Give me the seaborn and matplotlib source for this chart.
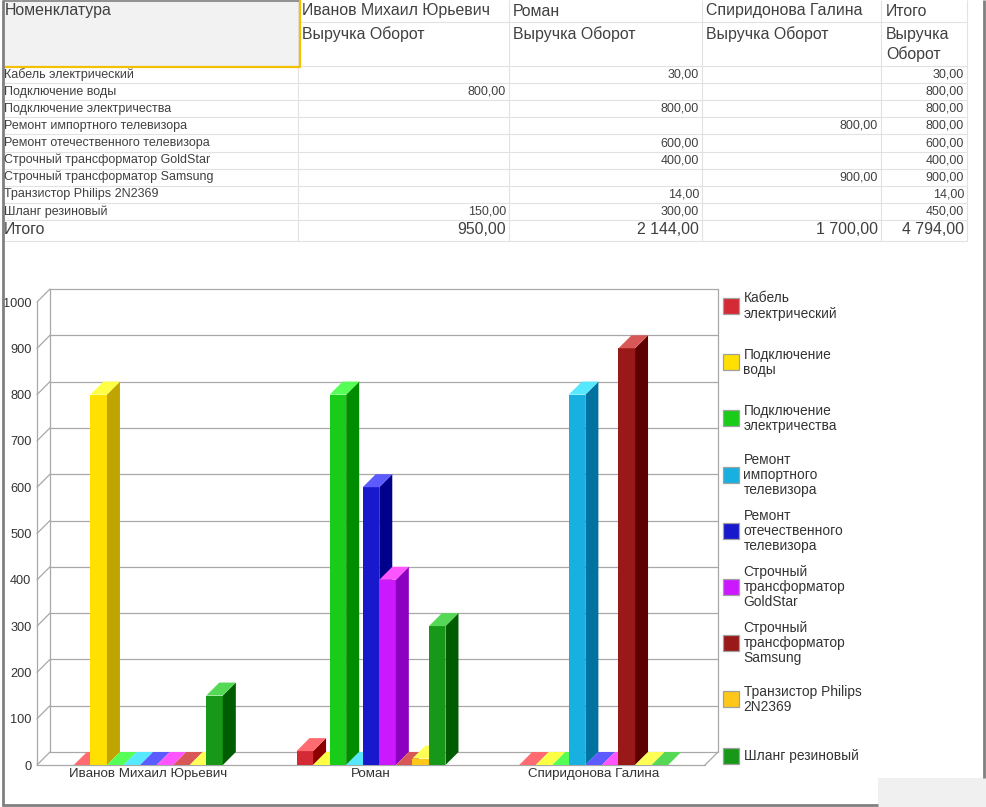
import numpy as np
import pandas as pd
import matplotlib
matplotlib.use("Agg")
import matplotlib.pyplot as plt
from matplotlib.patches import Polygon, Rectangle
import seaborn as sns

# ---------------- data ----------------
managers = ["Иванов Михаил Юрьевич", "Роман", "Спиридонова Галина"]
items = ["Кабель электрический", "Подключение воды", "Подключение электричества",
         "Ремонт импортного телевизора", "Ремонт отечественного телевизора",
         "Строчный трансформатор GoldStar", "Строчный трансформатор Samsung",
         "Транзистор Philips 2N2369", "Шланг резиновый"]
legend_labels = ["Кабель\nэлектрический", "Подключение\nводы", "Подключение\nэлектричества",
                 "Ремонт\nимпортного\nтелевизора", "Ремонт\nотечественного\nтелевизора",
                 "Строчный\nтрансформатор\nGoldStar", "Строчный\nтрансформатор\nSamsung",
                 "Транзистор Philips\n2N2369", "Шланг резиновый"]
vals_ivanov = [0, 800, 0, 0, 0, 0, 0, 0, 150]
vals_roman = [30, 0, 800, 0, 600, 400, 0, 14, 300]
vals_spiridonova = [0, 0, 0, 800, 0, 0, 900, 0, 0]
y_ticks = list(range(0, 1001, 100))
header_measure = "Выручка Оборот"
header_total = "Итого"
header_first = "Номенклатура"

front_colors = ["#D42A36", "#FFE000", "#1ACC1A", "#18B0E0", "#1818CC",
                "#CC18FF", "#991818", "#FFC818", "#189818"]
side_colors = ["#8C0000", "#C0A400", "#008C00", "#0072A0", "#00008A",
               "#8C00C0", "#5C0000", "#C09000", "#005C00"]
top_colors = ["#FF6B70", "#FFFF44", "#55FF55", "#55E8FF", "#5B5BFF",
              "#FF55FF", "#D85858", "#FFFF55", "#55D855"]

all_vals = [vals_ivanov, vals_roman, vals_spiridonova]
rows = []
for m, vs in zip(managers, all_vals):
    for it, v in zip(items, vs):
        rows.append({"manager": m, "item": it, "value": v})
df = pd.DataFrame(rows)

# ---------------- figure ----------------
sns.set_style("white")
plt.rcParams['font.family'] = ['Liberation Sans', 'DejaVu Sans']
W, H = 987, 807
fig = plt.figure(figsize=(W / 100, H / 100), dpi=100)
fig.patch.set_facecolor("white")

# pixel-space overlay axes for table, legend, frame
pax = fig.add_axes([0, 0, 1, 1], zorder=5)
pax.set_xlim(0, W)
pax.set_ylim(H, 0)
pax.axis("off")
pax.patch.set_alpha(0)

TXT = "#404040"
LINE = "#E2E2E2"

def fmt(v):
    s = f"{v:,.2f}"
    return s.replace(",", " ").replace(".", ",")

# table geometry (pixels)
col_x = [3, 298, 509, 702, 881, 967]
row_y = [66 + 17.1 * i for i in range(10)] + [241]

# header grey cell
pax.add_patch(Rectangle((3, -2), 296, 68, facecolor="#F2F2F2", edgecolor="none"))
# grid lines
for x in col_x[1:]:
    pax.plot([x, x], [0, 241], color=LINE, lw=0.8, solid_capstyle="butt")
pax.plot([298, 967], [22, 22], color=LINE, lw=0.8)
for y in row_y:
    pax.plot([3, 967], [y, y], color=LINE, lw=0.8)
# frame of header cell
pax.plot([3, 299], [0.6, 0.6], color="#808080", lw=1.2, solid_capstyle="butt")
pax.plot([3, 299.5, 299.5], [66.5, 66.5, -1], color="#F5C000", lw=1.6, solid_capstyle="butt")

hfs = 11.4
pax.text(5, 11, header_first, fontsize=hfs, color=TXT, va="center", ha="left")
for i, m in enumerate(managers):
    pax.text(col_x[i + 1] + 4, 11, m, fontsize=hfs, color=TXT, va="center", ha="left")
    pax.text(col_x[i + 1] + 4, 34, header_measure, fontsize=hfs, color=TXT, va="center", ha="left")
pax.text(col_x[4] + 5, 11, header_total, fontsize=hfs, color=TXT, va="center", ha="left")
pax.text(col_x[4] + 5, 34, header_measure.split()[0], fontsize=hfs, color=TXT, va="center", ha="left")
pax.text(col_x[4] + 5, 54, header_measure.split()[1], fontsize=hfs, color=TXT, va="center", ha="left")

dfs = 9.0
for r, it in enumerate(items):
    yc = row_y[r] + 8.6
    pax.text(4, yc, it, fontsize=dfs, color=TXT, va="center", ha="left")
    row_total = 0
    for c, vs in enumerate(all_vals):
        v = vs[r]
        row_total += v
        if v:
            pax.text(col_x[c + 2] - 3, yc, fmt(v), fontsize=dfs, color=TXT, va="center", ha="right")
    pax.text(col_x[5] - 3, yc, fmt(row_total), fontsize=dfs, color=TXT, va="center", ha="right")

yc = 230
pax.text(4, yc, header_total, fontsize=hfs, color=TXT, va="center", ha="left")
grand = 0
for c, vs in enumerate(all_vals):
    s = sum(vs)
    grand += s
    pax.text(col_x[c + 2] - 3, yc, fmt(s), fontsize=hfs, color=TXT, va="center", ha="right")
pax.text(col_x[5] - 3, yc, fmt(grand), fontsize=hfs, color=TXT, va="center", ha="right")

# legend
lfs = 9.9
for i, (lab, col) in enumerate(zip(legend_labels, front_colors)):
    cy = 306 + 56.2 * i
    pax.add_patch(Rectangle((722.5, cy - 8), 16, 16, facecolor=col, edgecolor="#A0A0A0", lw=0.9))
    pax.text(743.5, cy, lab, fontsize=lfs, color="#333333", va="center", ha="left", linespacing=1.1)

# outer frame
pax.add_patch(Rectangle((878, 778), 109, 29, facecolor="#F0F0F0", edgecolor="none"))
pax.plot([2.5, 2.5], [0, 806], color="#808080", lw=2.0, solid_capstyle="butt")
pax.plot([2, 878], [805, 805], color="#808080", lw=2.0, solid_capstyle="butt")
pax.plot([984, 984], [0, 778], color="#808080", lw=2.0, solid_capstyle="butt")

# ---------------- chart ----------------
x0, x1 = 37, 705
yb, yt = 765, 302
ax = fig.add_axes([x0 / W, 1 - yb / H, (x1 - x0) / W, (yb - yt) / H], zorder=2)
ax.patch.set_alpha(0)

group_w = 0.669
sns.barplot(data=df, x="manager", y="value", hue="item", order=managers, hue_order=items,
            palette=front_colors, saturation=1, width=group_w, dodge=True,
            edgecolor="none", linewidth=0, legend=False, errorbar=None, ax=ax)

ax.set_xlim(-0.5, 2.5)
ax.set_ylim(0, 1000)
px_per_x = (x1 - x0) / 3.0
px_per_y = (yb - yt) / 1000.0
ddx = 13 / px_per_x
ddy = 13 / px_per_y

GRID = "#A8A8A8"
glw = 0.9
for v in y_ticks:
    ax.plot([-0.5 + ddx, 2.5 + ddx], [v + ddy, v + ddy], color=GRID, lw=glw, zorder=0.5, clip_on=False)
    ax.plot([-0.5, -0.5 + ddx], [v, v + ddy], color=GRID, lw=glw, zorder=0.5, clip_on=False)
ax.plot([-0.5 + ddx, -0.5 + ddx], [ddy, 1000 + ddy], color=GRID, lw=glw, zorder=0.5, clip_on=False)
ax.plot([2.5 + ddx, 2.5 + ddx], [ddy, 1000 + ddy], color=GRID, lw=glw, zorder=0.5, clip_on=False)
ax.plot([-0.5, -0.5], [0, 1000], color=GRID, lw=glw, zorder=0.5, clip_on=False)
ax.plot([-0.5, 2.5], [0, 0], color=GRID, lw=glw, zorder=0.5, clip_on=False)
ax.plot([2.5, 2.5 + ddx], [0, ddy], color=GRID, lw=glw, zorder=0.5, clip_on=False)

bw = group_w / len(items)
bars = sorted([p for p in ax.patches if isinstance(p, Rectangle)], key=lambda p: p.get_x())
for k, p in enumerate(bars):
    x = p.get_x()
    w = p.get_width()
    h = p.get_height()
    xc = x + w / 2
    cat = int(round(xc))
    idx = int(np.floor((xc - cat + group_w / 2) / bw))
    idx = min(max(idx, 0), len(items) - 1)
    z = 2 + 3 * k
    p.set_zorder(z)
    p.set_clip_on(False)
    ax.add_patch(Polygon([(x + w, 0), (x + w + ddx, ddy), (x + w + ddx, h + ddy), (x + w, h)],
                         closed=True, facecolor=side_colors[idx], edgecolor="none",
                         zorder=z + 1, clip_on=False))
    ax.add_patch(Polygon([(x, h), (x + w, h), (x + w + ddx, h + ddy), (x + ddx, h + ddy)],
                         closed=True, facecolor=top_colors[idx], edgecolor="none",
                         zorder=z + 2, clip_on=False))

for s in ax.spines.values():
    s.set_visible(False)
ax.grid(False)
ax.set_yticks(y_ticks)
ax.set_yticklabels([str(v) for v in y_ticks], fontsize=9.2, color="#333333")
ax.set_xticks(range(len(managers)))
ax.set_xticklabels(managers, fontsize=9.6, color="#333333")
ax.tick_params(axis="y", length=0, pad=4)
ax.tick_params(axis="x", length=0, pad=2)
ax.set_xlabel("")
ax.set_ylabel("")

fig.savefig("out.png", dpi=100, facecolor="white")
